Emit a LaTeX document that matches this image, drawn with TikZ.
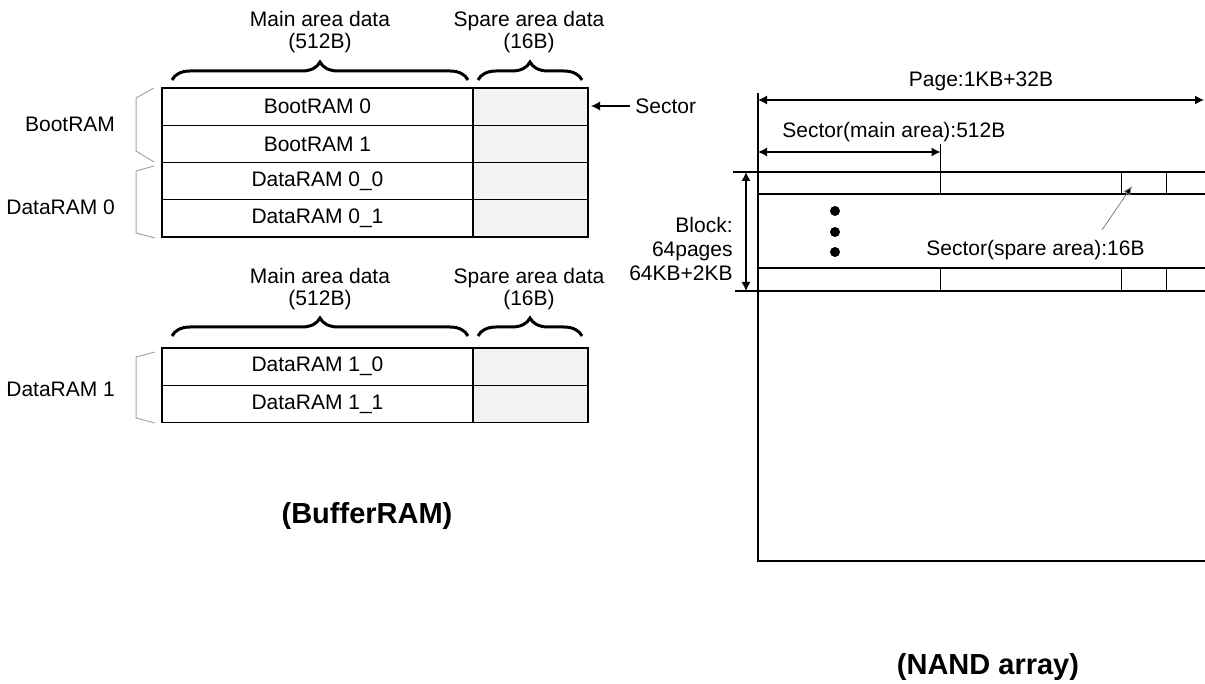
\documentclass[tikz,border=0pt]{standalone}
\usepackage{fontspec}
\setmainfont{Liberation Sans}
\usetikzlibrary{arrows.meta,decorations.pathreplacing}
\definecolor{sparegray}{HTML}{F2F2F2}
\definecolor{bracegray}{HTML}{A6A6A6}
\begin{document}
\begin{tikzpicture}[x=0.5pt,y=-0.5pt,
  font=\fontsize{10.5}{11}\selectfont,
  maincell/.style={draw, line width=0.6pt, minimum width=155.5pt, minimum height=18.625pt, inner sep=0pt},
  sparecell/.style={maincell, fill=sparegray, minimum width=57.5pt},
  bigbrace/.style={decorate, decoration={brace, amplitude=9pt}, line width=1.5pt},
  groupbrace/.style={draw=bracegray, line width=0.5pt},
  thinline/.style={line width=0.6pt},
  dimarrow/.style={line width=0.6pt, {Latex[length=4.5pt,width=4.5pt]}-{Latex[length=4.5pt,width=4.5pt]}},
  dotnode/.style={circle, fill, inner sep=0pt, minimum size=5pt},
  title/.style={font=\fontsize{14.5}{17}\selectfont\bfseries}]
\useasboundingbox (0,0) rectangle (1205,684);

% BufferRAM, upper part
\node[maincell] (boot0) at (317.5,106.6) {BootRAM 0};
\node[maincell] (boot1) at (317.5,143.9) {BootRAM 1};
\node[maincell] (data00) at (317.5,181.1) {DataRAM 0\_0};
\node[maincell] (data01) at (317.5,218.4) {DataRAM 0\_1};
\node[sparecell] (sboot0) at (530.5,106.6) {};
\node[sparecell] (sboot1) at (530.5,143.9) {};
\node[sparecell] (sdata00) at (530.5,181.1) {};
\node[sparecell] (sdata01) at (530.5,218.4) {};

\node[align=center] (mainhd) at (320,32) {Main area data\\(512B)};
\node[align=center] (sparehd) at (529,32) {Spare area data\\(16B)};
\draw[bigbrace] (172,80) -- (468,80);
\draw[bigbrace] (478,80) -- (582,80);

\node[anchor=east] (bootlbl) at (122,124) {BootRAM};
\node[anchor=east] (data0lbl) at (122,207) {DataRAM 0};
\path[groupbrace] (154,88) -- (136,98) -- (136,151) -- (154,162);
\path[groupbrace] (154,166) -- (136,171) -- (136,233) -- (155,238);

\node[anchor=west, inner sep=2.5pt] (sectorlbl) at (630,106) {Sector};
\coordinate (sectortip) at (591,106);
\path[draw,thinline,-{Latex[length=4.5pt,width=4.5pt]}] (sectorlbl.west) -- (sectortip);

% BufferRAM, lower part
\node[maincell] (data10) at (317.5,366.6) {DataRAM 1\_0};
\node[maincell] (data11) at (317.5,403.9) {DataRAM 1\_1};
\node[sparecell] (sdata10) at (530.5,366.6) {};
\node[sparecell] (sdata11) at (530.5,403.9) {};

\node[align=center] (mainhd2) at (320,289) {Main area data\\(512B)};
\node[align=center] (sparehd2) at (529,289) {Spare area data\\(16B)};
\draw[bigbrace] (172,336) -- (468,336);
\draw[bigbrace] (478,336) -- (582,336);

\node[anchor=east] (data1lbl) at (122,389) {DataRAM 1};
\path[groupbrace] (155,352) -- (136,357) -- (136,418) -- (155,423);

\node[title] (bufferlbl) at (367,516) {(BufferRAM)};

% NAND array
\draw[thinline] (758,93) -- (758,561) -- (1205,561);
\draw[thinline] (733,172) -- (1205,172);
\draw[thinline] (758,194) -- (1205,194);
\draw[thinline] (758,268) -- (1205,268);
\draw[thinline] (735,291) -- (1205,291);
\draw[thinline] (940.5,144) -- (940.5,194);
\draw[thinline] (1121.5,172) -- (1121.5,194);
\draw[thinline] (1166.5,172) -- (1166.5,194);
\draw[thinline] (940.5,268) -- (940.5,291);
\draw[thinline] (1121.5,268) -- (1121.5,291);
\draw[thinline] (1166.5,268) -- (1166.5,291);

\coordinate (pageL) at (758,100);
\coordinate (pageR) at (1204,100);
\path[draw,dimarrow] (pageL) -- (pageR);
\node (pagelbl) at (981,81) {Page:1KB+32B};

\coordinate (secL) at (758,152);
\coordinate (secR) at (940.5,152);
\path[draw,dimarrow] (secL) -- (secR);
\node[anchor=west, inner sep=0pt] (seclbl) at (782,132) {Sector(main area):512B};

\coordinate (blkT) at (746,172);
\coordinate (blkB) at (746,291);
\path[draw,dimarrow] (blkT) -- (blkB);
\node[align=right, anchor=east, inner sep=0pt, font=\fontsize{10.5}{12}\selectfont] (blklbl) at (733,249) {Block:\\64pages\\64KB+2KB};

\node[dotnode] (dot1) at (835,211) {};
\node[dotnode] (dot2) at (835,232) {};
\node[dotnode] (dot3) at (835,252) {};

\node[anchor=east, inner sep=0pt] (sparelbl) at (1145,250) {Sector(spare area):16B};
\coordinate (leaderS) at (1102,230);
\coordinate (leaderT) at (1132,186);
\path[draw=gray, line width=0.4pt, -{Latex[length=4.5pt,width=4pt,fill=black]}] (leaderS) -- (leaderT);

\node[title] (nandlbl) at (988,667) {(NAND array)};
\end{tikzpicture}
\end{document}
